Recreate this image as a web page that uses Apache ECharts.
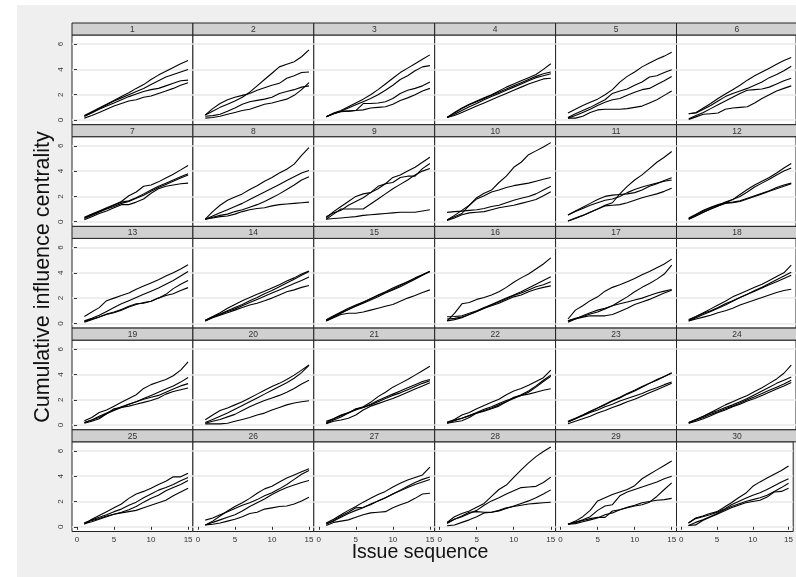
<!DOCTYPE html>
<html>
<head>
<meta charset="utf-8">
<script src="https://cdn.jsdelivr.net/npm/echarts@6/dist/echarts.min.js"></script>
<style>html,body{margin:0;padding:0;background:#fff}#c{width:796px;height:577px}</style>
</head>
<body>
<div id="c"></div>
<script>
// ---- data ----
const issues = [1,2,3,4,5,6,7,8,9,10,11,12,13,14,15];
const panelIds = ['1','2','3','4','5','6','7','8','9','10','11','12','13','14','15','16','17','18','19','20','21','22','23','24','25','26','27','28','29','30'];
const yTicks = [0,2,4,6];
const xTicks = [0,5,10,15];
const xTitle = 'Issue sequence';
const yTitle = 'Cumulative influence centrality';

const p1 = [
 [0.35,0.65,0.95,1.25,1.55,1.85,2.15,2.5,2.8,3.2,3.55,3.85,4.15,4.45,4.7],
 [0.3,0.6,0.9,1.2,1.5,1.75,2.0,2.25,2.5,2.8,3.1,3.4,3.6,3.8,4.0],
 [0.3,0.55,0.85,1.1,1.35,1.6,1.85,2.05,2.25,2.4,2.5,2.7,2.9,3.1,3.15],
 [0.15,0.35,0.6,0.85,1.1,1.3,1.5,1.6,1.8,1.9,2.1,2.3,2.5,2.75,2.95]];
const p2 = [
 [0.4,0.7,1.0,1.25,1.5,1.8,2.2,2.7,3.2,3.7,4.2,4.4,4.6,5.0,5.55],
 [0.4,0.9,1.3,1.6,1.8,1.95,2.1,2.35,2.55,2.75,2.9,3.3,3.5,3.75,3.8],
 [0.15,0.2,0.3,0.45,0.6,0.75,0.85,1.05,1.25,1.35,1.5,1.65,1.95,2.4,2.95],
 [0.3,0.35,0.45,0.7,0.95,1.25,1.45,1.55,1.65,1.8,2.1,2.25,2.4,2.6,2.7]];
const p3 = [
 [0.25,0.55,0.75,1.05,1.35,1.65,2.0,2.4,2.85,3.3,3.75,4.1,4.45,4.8,5.15],
 [0.25,0.5,0.7,0.95,1.2,1.45,1.7,2.0,2.35,2.75,3.2,3.5,3.9,4.2,4.3],
 [0.25,0.5,0.7,0.7,0.75,1.3,1.3,1.35,1.45,1.7,2.1,2.35,2.5,2.7,3.0],
 [0.25,0.5,0.65,0.7,0.75,0.8,0.95,1.0,1.05,1.25,1.55,1.75,2.0,2.3,2.5]];
const p4 = [
 [0.2,0.6,0.95,1.25,1.5,1.75,2.0,2.3,2.6,2.85,3.1,3.35,3.6,4.0,4.45],
 [0.2,0.55,0.9,1.2,1.45,1.7,1.95,2.2,2.45,2.7,2.95,3.2,3.45,3.65,3.8],
 [0.2,0.45,0.75,1.05,1.3,1.6,1.85,2.1,2.35,2.6,2.85,3.1,3.35,3.5,3.65],
 [0.2,0.35,0.6,0.85,1.1,1.35,1.6,1.85,2.1,2.35,2.6,2.85,3.05,3.25,3.3]];
const p5 = [
 [0.55,0.85,1.15,1.4,1.65,2.0,2.4,3.0,3.45,3.8,4.2,4.5,4.8,5.05,5.35],
 [0.2,0.5,0.75,1.0,1.3,1.6,2.1,2.3,2.45,2.75,3.0,3.4,3.5,3.75,3.97],
 [0.15,0.35,0.6,0.85,1.15,1.4,1.6,1.7,1.95,2.2,2.4,2.5,2.8,3.1,3.44],
 [0.15,0.15,0.3,0.6,0.8,0.85,0.85,0.85,0.9,1.0,1.1,1.35,1.6,1.95,2.3]];
const p6 = [
 [0.5,0.6,0.95,1.3,1.7,2.05,2.4,2.75,3.15,3.5,3.8,4.1,4.4,4.7,4.95],
 [0.5,0.55,0.85,1.15,1.5,1.85,2.1,2.3,2.5,2.75,3.0,3.35,3.6,3.9,4.25],
 [0.1,0.35,0.6,0.9,1.2,1.5,1.8,2.1,2.35,2.4,2.45,2.6,2.85,3.1,3.3],
 [0.05,0.25,0.45,0.5,0.55,0.85,0.95,1.0,1.05,1.35,1.7,2.0,2.3,2.5,2.7]];
const p7 = [
 [0.35,0.6,0.85,1.1,1.35,1.6,2.05,2.35,2.8,2.9,3.15,3.45,3.75,4.1,4.45],
 [0.3,0.55,0.8,1.05,1.3,1.55,1.65,1.9,2.2,2.5,2.8,3.05,3.3,3.55,3.8],
 [0.25,0.5,0.75,1.0,1.2,1.45,1.6,1.85,2.1,2.4,2.7,2.95,3.2,3.45,3.7],
 [0.15,0.4,0.65,0.85,1.1,1.35,1.35,1.55,1.8,2.25,2.6,2.8,2.9,3.0,3.05]];
const p8 = [
 [0.2,0.8,1.3,1.7,1.95,2.2,2.55,2.85,3.2,3.5,3.85,4.15,4.55,5.25,5.85],
 [0.2,0.45,0.7,0.95,1.2,1.45,1.75,2.05,2.35,2.65,2.95,3.25,3.55,3.85,4.05],
 [0.2,0.35,0.5,0.6,0.8,0.95,1.15,1.35,1.6,1.9,2.2,2.55,2.9,3.3,3.55],
 [0.2,0.3,0.4,0.45,0.6,0.8,0.95,1.05,1.1,1.25,1.35,1.4,1.45,1.5,1.55]];
const p9 = [
 [0.3,0.8,1.2,1.6,2.0,2.2,2.3,2.6,3.0,3.5,3.7,4.0,4.3,4.7,5.1],
 [0.4,0.7,0.9,1.3,1.6,1.9,2.3,2.8,3.0,3.1,3.5,3.6,3.6,4.2,4.6],
 [0.2,0.6,1.0,1.0,1.0,1.0,1.4,1.8,2.2,2.6,2.95,3.3,3.7,4.0,4.2],
 [0.2,0.25,0.3,0.35,0.4,0.5,0.55,0.6,0.65,0.7,0.75,0.75,0.75,0.85,0.95]];
const p10 = [
 [0.13,0.4,0.65,1.3,1.9,2.25,2.5,3.1,3.6,4.3,4.7,5.3,5.6,5.9,6.25],
 [0.13,0.5,0.9,1.3,1.8,2.05,2.35,2.5,2.7,2.85,2.95,3.05,3.2,3.35,3.5],
 [0.74,0.8,0.84,0.9,0.95,1.05,1.2,1.3,1.5,1.7,1.85,2.0,2.2,2.5,2.8],
 [0.1,0.3,0.55,0.7,0.75,0.8,0.95,1.1,1.2,1.3,1.45,1.6,1.75,2.05,2.37]];
const p11 = [
 [0.05,0.25,0.5,0.75,1.0,1.3,1.5,2.2,2.8,3.3,3.7,4.2,4.7,5.1,5.55],
 [0.53,0.85,1.15,1.45,1.75,2.0,2.1,2.15,2.2,2.3,2.5,2.8,3.0,3.25,3.47],
 [0.53,0.8,1.05,1.3,1.5,1.7,1.8,2.0,2.3,2.55,2.75,2.9,3.05,3.2,3.3],
 [0.05,0.3,0.5,0.75,1.0,1.25,1.3,1.35,1.5,1.7,1.9,2.05,2.2,2.4,2.65]];
const p12 = [
 [0.2,0.45,0.75,1.0,1.25,1.5,1.75,2.15,2.55,2.9,3.2,3.5,3.85,4.25,4.6],
 [0.25,0.55,0.85,1.1,1.3,1.55,1.75,2.0,2.35,2.75,3.05,3.35,3.7,4.0,4.25],
 [0.3,0.6,0.9,1.15,1.35,1.5,1.55,1.65,1.85,2.05,2.25,2.45,2.7,2.9,3.05],
 [0.2,0.5,0.75,1.0,1.25,1.45,1.5,1.6,1.8,2.0,2.2,2.4,2.6,2.8,3.0]];
const p13 = [
 [0.55,0.9,1.25,1.8,2.0,2.2,2.4,2.7,2.95,3.2,3.45,3.75,4.0,4.3,4.63],
 [0.2,0.4,0.65,0.95,1.25,1.55,1.8,2.05,2.3,2.55,2.8,3.1,3.4,3.75,4.1],
 [0.1,0.3,0.5,0.75,0.9,1.1,1.35,1.55,1.6,1.75,2.0,2.3,2.75,3.1,3.4],
 [0.15,0.35,0.5,0.7,0.85,1.05,1.3,1.5,1.65,1.75,2.0,2.2,2.35,2.6,2.83]];
const p14 = [
 [0.25,0.55,0.85,1.2,1.5,1.8,2.05,2.3,2.55,2.8,3.05,3.35,3.6,3.9,4.15],
 [0.2,0.5,0.75,1.0,1.25,1.5,1.8,2.05,2.35,2.6,2.9,3.2,3.5,3.8,4.1],
 [0.25,0.5,0.7,0.95,1.15,1.4,1.65,1.9,2.15,2.4,2.65,2.9,3.15,3.4,3.66],
 [0.2,0.45,0.65,0.85,1.05,1.25,1.45,1.6,1.8,2.0,2.25,2.5,2.65,2.85,3.0]];
const p15 = [
 [0.2,0.5,0.8,1.1,1.4,1.65,1.95,2.25,2.5,2.8,3.05,3.3,3.6,3.85,4.1],
 [0.25,0.55,0.85,1.1,1.35,1.6,1.85,2.1,2.4,2.65,2.9,3.2,3.5,3.8,4.1],
 [0.3,0.6,0.9,1.2,1.45,1.7,1.95,2.2,2.45,2.7,3.0,3.3,3.55,3.85,4.12],
 [0.2,0.45,0.7,0.8,0.8,0.9,1.05,1.2,1.35,1.5,1.75,2.0,2.2,2.45,2.65]];
const p16 = [
 [0.2,0.8,1.55,1.65,1.9,2.05,2.25,2.5,2.85,3.25,3.6,3.9,4.3,4.7,5.18],
 [0.53,0.55,0.6,0.8,1.0,1.25,1.5,1.75,2.0,2.25,2.5,2.8,3.1,3.4,3.68],
 [0.35,0.4,0.5,0.7,0.95,1.2,1.45,1.7,1.95,2.2,2.4,2.65,2.9,3.05,3.3],
 [0.2,0.3,0.45,0.7,0.95,1.2,1.4,1.6,1.85,2.1,2.25,2.5,2.7,2.85,2.97]];
const p17 = [
 [0.35,1.05,1.4,1.8,2.1,2.55,2.85,3.05,3.3,3.55,3.85,4.1,4.4,4.7,5.08],
 [0.2,0.4,0.55,0.75,0.9,1.15,1.4,1.75,2.1,2.5,2.85,3.15,3.5,3.9,4.6],
 [0.1,0.35,0.6,0.85,1.05,1.2,1.4,1.55,1.7,1.85,2.0,2.2,2.4,2.55,2.68],
 [0.2,0.35,0.5,0.6,0.6,0.6,0.7,0.95,1.2,1.5,1.7,1.9,2.15,2.4,2.63]];
const p18 = [
 [0.25,0.55,0.85,1.15,1.45,1.75,2.1,2.35,2.6,2.85,3.1,3.4,3.7,4.0,4.6],
 [0.2,0.45,0.7,0.95,1.2,1.45,1.75,2.05,2.3,2.6,2.85,3.15,3.45,3.75,4.05],
 [0.3,0.55,0.8,1.0,1.25,1.55,1.8,2.05,2.3,2.55,2.8,3.05,3.3,3.55,3.8],
 [0.2,0.35,0.5,0.65,0.85,1.0,1.2,1.45,1.65,1.85,2.05,2.25,2.45,2.6,2.7]];
const p19 = [
 [0.35,0.6,1.0,1.2,1.5,1.8,2.1,2.4,2.9,3.2,3.4,3.6,3.9,4.35,5.0],
 [0.2,0.4,0.7,0.95,1.2,1.45,1.65,1.85,2.1,2.35,2.6,2.85,3.1,3.4,3.76],
 [0.2,0.4,0.6,0.9,1.15,1.4,1.65,1.85,2.05,2.2,2.35,2.6,2.85,3.1,3.28],
 [0.15,0.3,0.5,0.9,1.3,1.4,1.5,1.65,1.8,1.95,2.15,2.45,2.65,2.8,2.93]];
const p20 = [
 [0.43,0.8,1.15,1.35,1.6,1.85,2.15,2.45,2.75,3.05,3.3,3.6,3.95,4.35,4.75],
 [0.2,0.45,0.7,0.95,1.25,1.55,1.85,2.15,2.45,2.75,3.05,3.35,3.7,4.15,4.72],
 [0.15,0.3,0.45,0.65,0.85,1.15,1.45,1.7,1.95,2.15,2.35,2.6,2.9,3.25,3.55],
 [0.1,0.1,0.1,0.15,0.3,0.45,0.6,0.8,0.95,1.2,1.4,1.6,1.75,1.85,1.92]];
const p21 = [
 [0.2,0.5,0.8,1.0,1.25,1.45,1.8,2.25,2.6,3.0,3.3,3.6,3.95,4.3,4.65],
 [0.3,0.5,0.75,0.95,1.2,1.4,1.65,1.95,2.2,2.45,2.7,2.95,3.2,3.45,3.6],
 [0.15,0.4,0.65,0.95,1.3,1.4,1.6,1.85,2.1,2.35,2.55,2.8,3.05,3.3,3.5],
 [0.1,0.3,0.4,0.55,0.8,1.2,1.5,1.7,1.9,2.1,2.35,2.6,2.85,3.1,3.35]];
const p22 = [
 [0.2,0.45,0.8,1.0,1.3,1.55,1.8,2.05,2.4,2.7,2.9,3.15,3.45,3.75,4.35],
 [0.15,0.35,0.55,0.75,1.0,1.25,1.45,1.7,1.95,2.15,2.4,2.7,3.1,3.55,3.95],
 [0.25,0.4,0.55,0.75,0.95,1.15,1.35,1.6,1.85,2.1,2.35,2.6,3.0,3.45,3.85],
 [0.15,0.25,0.35,0.6,0.95,1.1,1.3,1.5,1.85,2.2,2.35,2.45,2.6,2.75,2.88]];
const p23 = [
 [0.3,0.55,0.8,1.1,1.35,1.65,1.95,2.2,2.5,2.75,3.05,3.3,3.6,3.85,4.15],
 [0.25,0.5,0.8,1.05,1.35,1.6,1.9,2.15,2.45,2.7,3.0,3.3,3.55,3.85,4.1],
 [0.25,0.5,0.75,1.0,1.2,1.45,1.65,1.9,2.1,2.3,2.5,2.75,2.95,3.2,3.4],
 [0.1,0.3,0.5,0.7,0.95,1.15,1.4,1.6,1.85,2.05,2.3,2.55,2.8,3.05,3.3]];
const p24 = [
 [0.2,0.45,0.7,1.0,1.3,1.6,1.85,2.1,2.35,2.65,2.95,3.3,3.65,4.1,4.75],
 [0.2,0.45,0.7,0.95,1.15,1.4,1.6,1.85,2.1,2.4,2.7,3.0,3.3,3.55,3.8],
 [0.15,0.4,0.6,0.85,1.05,1.3,1.5,1.75,2.0,2.25,2.5,2.75,3.0,3.25,3.55],
 [0.15,0.3,0.5,0.75,1.0,1.2,1.45,1.65,1.9,2.1,2.35,2.6,2.85,3.1,3.36]];
const p25 = [
 [0.2,0.6,0.9,1.2,1.5,1.8,2.25,2.6,2.8,3.05,3.35,3.6,3.95,3.95,4.24],
 [0.3,0.55,0.75,0.95,1.2,1.4,1.7,1.95,2.3,2.6,2.9,3.1,3.35,3.65,3.9],
 [0.3,0.5,0.65,0.85,1.0,1.15,1.35,1.6,1.95,2.25,2.5,2.85,3.1,3.35,3.66],
 [0.25,0.4,0.6,0.8,1.0,1.1,1.2,1.3,1.5,1.7,1.9,2.1,2.45,2.75,3.05]];
const p26 = [
 [0.15,0.45,0.85,1.25,1.6,1.9,2.25,2.65,3.0,3.2,3.55,3.85,4.1,4.35,4.59],
 [0.53,0.7,0.95,1.2,1.45,1.7,1.9,2.15,2.45,2.7,3.0,3.35,3.75,4.15,4.46],
 [0.15,0.35,0.55,0.75,0.95,1.25,1.6,1.9,2.2,2.55,2.85,3.1,3.3,3.5,3.66],
 [0.15,0.2,0.3,0.45,0.6,0.8,1.05,1.15,1.4,1.5,1.6,1.65,1.8,2.05,2.33]];
const p27 = [
 [0.3,0.6,0.95,1.3,1.6,1.95,2.25,2.55,2.8,3.15,3.45,3.7,3.9,4.1,4.72],
 [0.2,0.5,0.85,1.15,1.5,1.55,1.75,2.05,2.3,2.6,2.9,3.2,3.5,3.75,3.93],
 [0.25,0.45,0.75,1.05,1.3,1.5,1.8,2.05,2.3,2.6,2.85,3.1,3.35,3.55,3.74],
 [0.1,0.35,0.45,0.55,0.75,0.95,1.1,1.15,1.2,1.5,1.75,1.95,2.25,2.6,2.65]];
const p28 = [
 [0.35,0.8,1.05,1.25,1.55,1.85,2.4,2.95,3.3,3.9,4.5,5.05,5.55,5.95,6.31],
 [0.27,0.6,0.8,1.05,1.3,1.7,2.05,2.3,2.6,2.85,3.1,3.15,3.2,3.5,3.93],
 [0.08,0.15,0.35,0.55,0.8,1.1,1.15,1.25,1.45,1.65,1.85,2.05,2.3,2.6,2.92],
 [0.35,0.6,0.85,1.15,1.2,1.15,1.15,1.3,1.5,1.6,1.7,1.8,1.85,1.9,1.94]];
const p29 = [
 [0.2,0.45,0.8,1.3,2.05,2.3,2.55,2.75,2.95,3.25,3.8,4.15,4.5,4.85,5.2],
 [0.2,0.35,0.55,0.8,1.3,1.65,1.75,2.45,2.75,2.95,3.15,3.35,3.55,3.8,4.0],
 [0.2,0.35,0.5,0.65,0.75,0.75,1.25,1.35,1.5,1.65,1.75,1.95,2.4,2.95,3.47],
 [0.2,0.25,0.4,0.55,0.7,0.95,1.1,1.35,1.55,1.7,1.9,2.0,2.1,2.15,2.25]];
const p30 = [
 [0.3,0.7,0.85,1.05,1.2,1.55,1.9,2.3,2.65,3.2,3.55,3.85,4.15,4.45,4.8],
 [0.3,0.65,0.8,0.95,1.15,1.4,1.75,2.0,2.25,2.5,2.7,2.95,3.25,3.55,3.8],
 [0.1,0.35,0.55,0.8,1.05,1.35,1.6,1.8,2.0,2.15,2.3,2.5,2.8,3.1,3.45],
 [0.1,0.15,0.5,0.75,1.0,1.25,1.5,1.7,1.9,2.0,2.1,2.35,2.75,2.8,3.05]];

const panels = [p1,p2,p3,p4,p5,p6,p7,p8,p9,p10,p11,p12,p13,p14,p15,p16,p17,p18,p19,p20,p21,p22,p23,p24,p25,p26,p27,p28,p29,p30];

// ---- layout ----
const NCOL = 6, NROW = 5;
const LEFT0 = 72, PW = 120.9;
const TOP0 = 23, RPITCH = 101.7, STRIP = 12, PH = 89.7;
const FONT = '"Liberation Sans", Arial, Helvetica, sans-serif';

const chart = echarts.init(document.getElementById('c'), null, {renderer: 'canvas'});

const grids = [], xAxes = [], yAxes = [], series = [], graphics = [];
graphics.push({type: 'rect', silent: true, z: -10, shape: {x: 17, y: 5, width: 800, height: 580}, style: {fill: '#efefef'}});

panels.forEach((lines, i) => {
  const r = Math.floor(i / NCOL), c = i % NCOL;
  const left = LEFT0 + c * PW;
  const stripTop = TOP0 + r * RPITCH;
  const top = stripTop + STRIP;
  grids.push({left: left, top: top, width: PW, height: PH, show: true,
    backgroundColor: '#ffffff', borderColor: '#222', borderWidth: 1, containLabel: false});
  const bottomRow = r === NROW - 1, firstCol = c === 0;
  xAxes.push({type: 'value', gridIndex: i, min: -0.67, max: 15.65,
    axisLine: {show: false},
    axisTick: {show: bottomRow, customValues: xTicks, length: 3, lineStyle: {color: '#333', width: 1}},
    axisLabel: {show: bottomRow, customValues: xTicks, fontSize: 8, color: '#333', margin: 4, fontFamily: FONT},
    splitLine: {show: false}});
  yAxes.push({type: 'value', gridIndex: i, min: -0.37, max: 6.72,
    axisLine: {show: false},
    axisTick: {show: firstCol, customValues: yTicks, length: 3, lineStyle: {color: '#333', width: 1}},
    axisLabel: {show: firstCol, customValues: yTicks, rotate: 90, fontSize: 8, color: '#333', margin: 7, fontFamily: FONT},
    splitLine: {show: true, lineStyle: {color: '#e8e8e8', width: 1.5}}});
  lines.forEach((vals) => {
    series.push({type: 'line', xAxisIndex: i, yAxisIndex: i, showSymbol: false, silent: true,
      data: issues.map((x, k) => [x, vals[k]]),
      lineStyle: {color: '#000', width: 1.1}, z: 3});
  });
  graphics.push({type: 'rect', silent: true, z: 5,
    shape: {x: left, y: stripTop, width: PW, height: STRIP},
    style: {fill: '#d0d0d0', stroke: '#222', lineWidth: 1}});
  graphics.push({type: 'text', silent: true, z: 6, x: left + PW / 2, y: stripTop + STRIP / 2 + 0.5,
    style: {text: panelIds[i], fill: '#333', fontSize: 8.5, fontFamily: FONT, align: 'center', verticalAlign: 'middle'}});
});

graphics.push({type: 'text', silent: true, x: 420, y: 553,
  style: {text: xTitle, fill: '#111', fontSize: 19.5, fontFamily: FONT, align: 'center', verticalAlign: 'middle'}});
graphics.push({type: 'text', silent: true, x: 43, y: 277, rotation: Math.PI / 2,
  style: {text: yTitle, fill: '#111', fontSize: 21.5, fontFamily: FONT, align: 'center', verticalAlign: 'middle'}});

chart.setOption({
  backgroundColor: '#ffffff',
  animation: false,
  grid: grids, xAxis: xAxes, yAxis: yAxes, series: series, graphic: graphics
});
</script>
</body>
</html>
